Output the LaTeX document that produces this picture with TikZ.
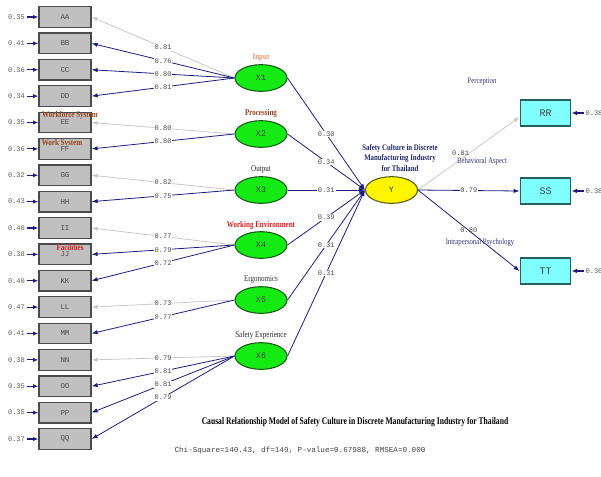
\documentclass[tikz,border=0pt]{standalone}
\usepackage{fontspec}
\setmainfont{Liberation Serif}
\setmonofont{Liberation Mono}
\newfontfamily\narrowserif[FakeStretch=0.8]{Liberation Serif}
\newfontfamily\narrowtitle[FakeStretch=0.75]{Liberation Serif}
\usetikzlibrary{arrows.meta, shapes.geometric, positioning}

\definecolor{PathNavy}{RGB}{28,28,125}
\definecolor{FixGray}{RGB}{200,200,200}
\definecolor{BoxGray}{RGB}{192,192,192}
\definecolor{BoxEdge}{RGB}{75,75,75}
\definecolor{LatGreen}{RGB}{20,235,20}
\definecolor{LatEdge}{RGB}{20,90,20}
\definecolor{EndoYellow}{RGB}{255,245,0}
\definecolor{EndoEdge}{RGB}{90,90,20}
\definecolor{ObsCyan}{RGB}{128,255,255}
\definecolor{CyanEdge}{RGB}{40,95,95}
\definecolor{InputOrange}{RGB}{235,150,110}
\definecolor{ProcBrown}{RGB}{150,70,30}
\definecolor{EnvRed}{RGB}{210,30,30}
\definecolor{TitleNavy}{RGB}{30,40,100}
\definecolor{LabNavy}{RGB}{45,55,120}

\tikzset{
  obsbox/.style={draw=BoxEdge, fill=BoxGray, line width=0.9pt,
    minimum width=39pt, minimum height=15.5pt, inner sep=0pt,
    font=\ttfamily\fontsize{5.6}{6}\selectfont, text=black!70},
  endbox/.style={draw=CyanEdge, fill=ObsCyan, line width=0.9pt,
    minimum width=38pt, minimum height=19.5pt, inner sep=0pt,
    font=\ttfamily\fontsize{7.5}{8}\selectfont, text=black!75},
  latent/.style={ellipse, draw=LatEdge, fill=LatGreen, line width=0.8pt,
    minimum width=39pt, minimum height=20pt, inner sep=0pt,
    font=\ttfamily\fontsize{6.3}{7}\selectfont, text=black!75},
  errval/.style={font=\ttfamily\fontsize{5.3}{6}\selectfont,
    text=black!65, inner sep=1pt},
  coef/.style={font=\ttfamily\fontsize{5.3}{6}\selectfont,
    text=black!70, fill=white, inner sep=0.6pt},
  latlabel/.style={font=\narrowserif\fontsize{6.6}{7}\selectfont, inner sep=0.5pt},
  boldlabel/.style={latlabel, font=\narrowserif\bfseries\fontsize{6.6}{7}\selectfont},
  sidelabel/.style={font=\narrowserif\fontsize{6.3}{7}\selectfont,
    text=LabNavy, inner sep=0.5pt},
  estpath/.style={draw=PathNavy, line width=0.6pt,
    -{Latex[length=4.5pt,width=3.2pt]}},
  fixpath/.style={draw=FixGray, line width=0.6pt,
    -{Latex[length=4.5pt,width=3.2pt]}},
  errpath/.style={draw=PathNavy, line width=0.8pt,
    -{Latex[length=4pt,width=3.2pt]}},
}

\begin{document}
\begin{tikzpicture}[x=0.75pt, y=-0.75pt]
  \useasboundingbox (0,0) rectangle (601,476);

  % observed indicators of the exogenous factors
  \foreach \ind/\err [count=\i from 0] in {AA/0.35, BB/0.41, CC/0.36,
      DD/0.34, EE/0.35, FF/0.36, GG/0.32, HH/0.43, II/0.40, JJ/0.38,
      KK/0.40, LL/0.47, MM/0.41, NN/0.38, OO/0.35, PP/0.35, QQ/0.37}
  {
    \node[obsbox] (\ind) at (65,{17+26.375*\i}) {\ind};
    \node[errval] (e\ind) at (16.5,{17+26.375*\i}) {\err};
    \draw[errpath] (e\ind) -- (\ind);
  }

  % exogenous latent factors
  \foreach \lat/\yy in {X1/78, X2/134, X3/190, X4/245, X5/300, X6/356}
    \node[latent] (\lat) at (261,\yy) {\lat};

  \node[boldlabel, text=InputOrange, above=1pt of X1] (labInput) {Input};
  \node[boldlabel, text=ProcBrown, above=1pt of X2] (labProc) {Processing};
  \node[latlabel, text=black!85, above=1pt of X3] (labOutput) {Output};
  \node[boldlabel, text=EnvRed, above=0.5pt of X4] (labEnv) {Working Environment};
  \node[latlabel, text=black!80, above=1pt of X5] (labErgo) {Ergonomics};
  \node[latlabel, text=black!85, above=1pt of X6] (labSafe) {Safety Experience};

  % sub-dimension labels over the boxes
  \node[boldlabel, text=ProcBrown] (labWorkforce) at (70,115) {Workforce System};
  \node[boldlabel, text=ProcBrown] (labWork) at (62,143) {Work System};
  \node[boldlabel, text=EnvRed] (labFacil) at (70,247) {Facilities};

  % factor loadings
  \foreach \lat/\ind/\val/\sty in {X1/AA/0.81/fixpath, X1/BB/0.76/estpath,
      X1/CC/0.80/estpath, X1/DD/0.81/estpath, X2/EE/0.80/fixpath,
      X2/FF/0.80/estpath, X3/GG/0.82/fixpath, X3/HH/0.75/estpath,
      X4/II/0.77/fixpath, X4/JJ/0.79/estpath, X4/KK/0.72/estpath,
      X5/LL/0.73/fixpath, X5/MM/0.77/estpath, X6/NN/0.79/fixpath,
      X6/OO/0.81/estpath, X6/PP/0.81/estpath, X6/QQ/0.79/estpath}
    \draw[\sty] (\lat.west) -- node[coef] {\val} (\ind.east);

  % endogenous factor
  \node[latent, fill=EndoYellow, draw=EndoEdge] (Y) at (391.5,190) {Y};
  \node[font=\narrowserif\bfseries\fontsize{6.4}{7.9}\selectfont, text=TitleNavy,
        align=center] (ytitle) at (400,158)
    {Safety Culture in Discrete\\Manufacturing Industry\\for Thailand};

  % structural paths
  \foreach \lat/\val in {X1/0.30, X2/0.34, X3/0.31, X4/0.39, X5/0.31, X6/0.31}
    \draw[estpath] (\lat.east) -- node[coef] {\val} (Y.west);

  % indicators of Y
  \foreach \ind/\yy/\err in {RR/113/0.38, SS/191/0.38, TT/271/0.36}
  {
    \node[endbox] (\ind) at (545.5,\yy) {\ind};
    \node[errval] (e\ind) at (594,\yy) {\err};
    \draw[errpath] (e\ind) -- (\ind);
  }
  \draw[fixpath] (Y.east) -- node[coef, fill=none, pos=0.42, yshift=5pt] {0.81}
    ([yshift=-3pt]RR.west);
  \draw[estpath] (Y.east) -- node[coef] {0.79} (SS.west);
  \draw[estpath] (Y.east) -- node[coef, fill=none] {0.80} (TT.west);

  \node[sidelabel] (labPercep) at (482,82) {Perception};
  \node[sidelabel] (labBehav) at (482,161) {Behavioral Aspect};
  \node[sidelabel] (labIntra) at (480,242) {Intrapersonal Psychology};

  % caption and fit indices
  \node[font=\narrowtitle\bfseries\fontsize{7.6}{9}\selectfont] (caption) at (355,422)
    {Causal Relationship Model of Safety Culture in Discrete Manufacturing Industry for Thailand};
  \node[font=\ttfamily\fontsize{5.7}{7}\selectfont, text=black!75] (fitline) at (300,451)
    {Chi-Square=140.43, df=149, P-value=0.67988, RMSEA=0.000};
\end{tikzpicture}
\end{document}
